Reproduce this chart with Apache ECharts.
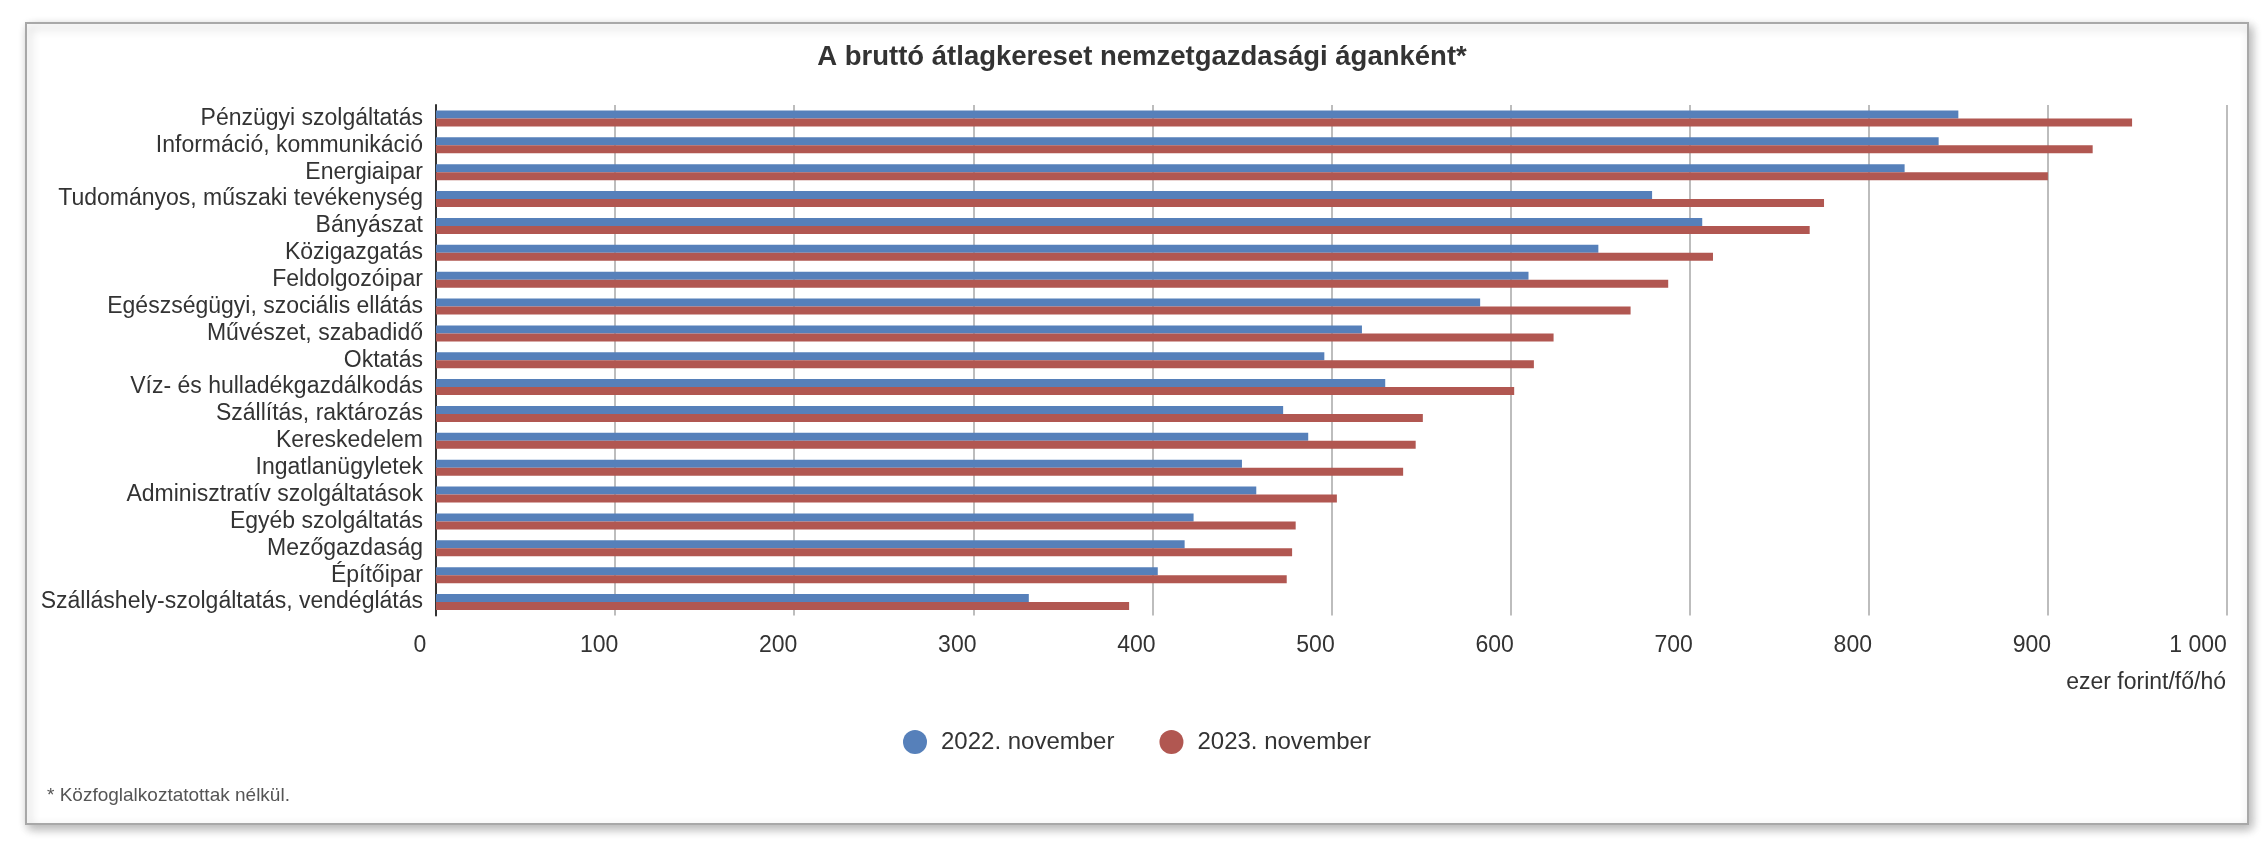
<!DOCTYPE html>
<html>
<head>
<meta charset="utf-8">
<script src="https://cdn.jsdelivr.net/npm/echarts@6/dist/echarts.min.js"></script>
<style>
  html, body { margin: 0; padding: 0; background: #fff; }
  #chart { width: 2262px; height: 846px; }
</style>
</head>
<body>
<div id="chart"></div>
<script>
var categories = [
  'Pénzügyi szolgáltatás',
  'Információ, kommunikáció',
  'Energiaipar',
  'Tudományos, műszaki tevékenység',
  'Bányászat',
  'Közigazgatás',
  'Feldolgozóipar',
  'Egészségügyi, szociális ellátás',
  'Művészet, szabadidő',
  'Oktatás',
  'Víz- és hulladékgazdálkodás',
  'Szállítás, raktározás',
  'Kereskedelem',
  'Ingatlanügyletek',
  'Adminisztratív szolgáltatások',
  'Egyéb szolgáltatás',
  'Mezőgazdaság',
  'Építőipar',
  'Szálláshely-szolgáltatás, vendéglátás'
];
var nov2022 = [850, 839, 820, 679, 707, 649, 610, 583, 517, 496, 530, 473, 487, 450, 458, 423, 418, 403, 331];
var nov2023 = [947, 925, 900, 775, 767, 713, 688, 667, 624, 613, 602, 551, 547, 540, 503, 480, 478, 475, 387];
var seriesNames = ['2022. november', '2023. november'];
var xTicks = [0, 100, 200, 300, 400, 500, 600, 700, 800, 900, 1000];

var font = '"Liberation Sans", Arial, sans-serif';
var chart = echarts.init(document.getElementById('chart'));

function fmt(v) {
  return String(v).replace(/\B(?=(\d{3})+(?!\d))/g, ' ');
}

chart.setOption({
  animation: false,
  title: {
    text: 'A bruttó átlagkereset nemzetgazdasági áganként*',
    left: 1137,
    top: 38,
    textAlign: 'center',
    textStyle: { fontFamily: font, fontSize: 27.5, fontWeight: 'bold', color: '#333' }
  },
  legend: {
    data: seriesNames,
    left: 898,
    top: 725,
    icon: 'circle',
    itemWidth: 24,
    itemHeight: 24,
    itemGap: 45,
    textStyle: { fontFamily: font, fontSize: 24, color: '#333', padding: [0, 0, 0, 9] }
  },
  grid: { left: 436, right: 35, top: 105, bottom: 230.5, containLabel: false },
  xAxis: {
    type: 'value',
    min: xTicks[0],
    max: xTicks[xTicks.length - 1],
    interval: 100,
    axisLine: { show: false },
    axisTick: { show: false },
    splitLine: { lineStyle: { color: '#bdbdbd', width: 2 } },
    axisLabel: {
      margin: 19,
      formatter: function (v) {
        return v === 1000 ? '{e|' + fmt(v) + '}' : '{n|' + fmt(v) + '}';
      },
      rich: {
        n: { fontFamily: font, fontSize: 23, color: '#333', padding: [0, 32, 0, 0] },
        e: { fontFamily: font, fontSize: 23, color: '#333', padding: [0, 58, 0, 0] }
      }
    }
  },
  yAxis: {
    type: 'category',
    data: categories,
    inverse: true,
    axisLine: { lineStyle: { color: '#333', width: 2 } },
    axisTick: { alignWithLabel: true, interval: 0, length: 11, lineStyle: { color: '#aaa', width: 2 } },
    axisLabel: { interval: 0, margin: 13, fontFamily: font, fontSize: 23, color: '#333' }
  },
  series: [
    {
      name: seriesNames[0],
      type: 'bar',
      data: nov2022,
      barWidth: 8,
      barGap: '0%',
      itemStyle: { color: '#5680BA' }
    },
    {
      name: seriesNames[1],
      type: 'bar',
      data: nov2023,
      barWidth: 8,
      barGap: '0%',
      itemStyle: { color: '#B15751' }
    }
  ],
  graphic: [
    {
      type: 'rect',
      z: -10,
      shape: { x: 26, y: 23, width: 2222, height: 801 },
      style: {
        fill: '#fff',
        stroke: '#a8a8a8',
        lineWidth: 2,
        shadowBlur: 10,
        shadowOffsetX: 3,
        shadowOffsetY: 4,
        shadowColor: 'rgba(0,0,0,0.3)'
      }
    },
    {
      type: 'text',
      x: 2226,
      y: 683,
      style: {
        text: 'ezer forint/fő/hó',
        fontFamily: font,
        fontSize: 23,
        fill: '#333',
        textAlign: 'right',
        textVerticalAlign: 'middle'
      }
    },
    {
      type: 'text',
      x: 47,
      y: 796,
      style: {
        text: '* Közfoglalkoztatottak nélkül.',
        fontFamily: font,
        fontSize: 19,
        fill: '#555',
        textAlign: 'left',
        textVerticalAlign: 'middle'
      }
    }
  ]
});
</script>
</body>
</html>
